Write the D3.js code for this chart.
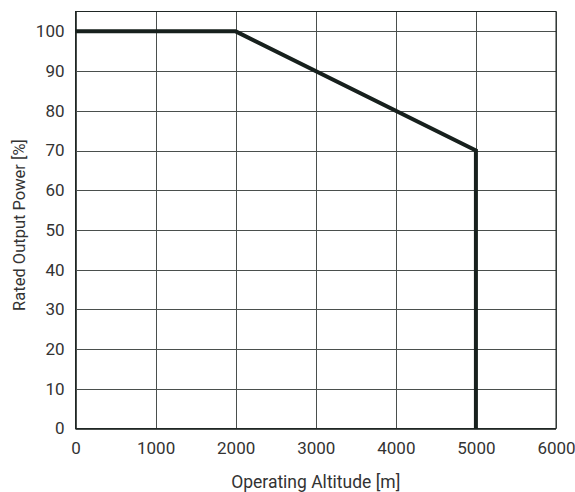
<!DOCTYPE html>
<html><head><meta charset="utf-8">
<script src="https://cdn.jsdelivr.net/npm/d3@7"></script>
<style>body{margin:0;background:#fff}text{font-family:Roboto,"Liberation Sans",sans-serif;fill:#333}</style>
</head><body><svg id="c" width="575" height="492"></svg>
<script>
const altitude = [0, 2000, 5000, 5000];
const power = [100, 100, 70, 0];
const xTicks = [0, 1000, 2000, 3000, 4000, 5000, 6000];
const yTicks = [0, 10, 20, 30, 40, 50, 60, 70, 80, 90, 100];

const svg = d3.select("#c");
const m = {l: 75.5, r: 556, t: 11.5, b: 428.5};
const x = d3.scaleLinear().domain([0, 6000]).range([m.l, m.r]);
const y = d3.scaleLinear().domain([0, 105]).range([m.b, m.t]);

const g = svg.append("g");
g.selectAll(".vx").data(xTicks).join("line")
  .attr("x1", d => Math.round(x(d)) + 0.5).attr("x2", d => Math.round(x(d)) + 0.5)
  .attr("y1", m.t).attr("y2", m.b).attr("stroke", "#4a4f4d").attr("stroke-width", 1);
g.selectAll(".hy").data(yTicks).join("line")
  .attr("y1", d => Math.round(y(d)) + 0.5).attr("y2", d => Math.round(y(d)) + 0.5)
  .attr("x1", m.l).attr("x2", m.r).attr("stroke", "#4a4f4d").attr("stroke-width", 1);
svg.append("rect").attr("x", m.l).attr("y", m.t).attr("width", m.r - m.l).attr("height", m.b - m.t)
  .attr("fill", "none").attr("stroke", "#1f2624").attr("stroke-width", 1);

const xAxis = d3.axisBottom(x).tickValues(xTicks).tickSize(0).tickPadding(13).tickFormat(d3.format("d"));
svg.append("g").attr("transform", `translate(0,${m.b})`).call(xAxis)
  .call(s => s.select(".domain").remove())
  .selectAll("text").attr("font-size", 17).attr("fill", "#333").style("font-family", "Roboto");
const yAxis = d3.axisLeft(y).tickValues(yTicks).tickSize(0).tickPadding(11).tickFormat(d3.format("d"));
svg.append("g").attr("transform", `translate(${m.l},0)`).call(yAxis)
  .call(s => s.select(".domain").remove())
  .selectAll("text").attr("font-size", 17).attr("fill", "#333").style("font-family", "Roboto");

const pts = altitude.map((a, i) => [a, power[i]]);
svg.append("path").datum(pts)
  .attr("d", d3.line().x(d => x(d[0])).y(d => y(d[1])))
  .attr("fill", "none").attr("stroke", "#17201d").attr("stroke-width", 4).attr("stroke-linejoin", "miter");

svg.append("text").attr("x", (m.l + m.r) / 2).attr("y", 488).attr("text-anchor", "middle")
  .attr("font-size", 17.5).text("Operating Altitude [m]");
svg.append("text").attr("transform", `translate(25,225) rotate(-90)`).attr("text-anchor", "middle")
  .attr("font-size", 16.5).text("Rated Output Power [%]");
</script></body></html>
